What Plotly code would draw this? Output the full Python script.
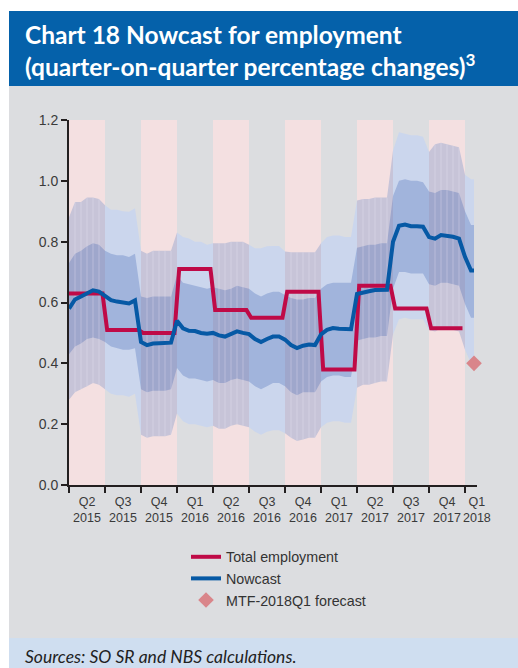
import plotly.graph_objects as go

# ---------------------------------------------------------------- data
quarter_labels = ["Q2<br>2015", "Q3<br>2015", "Q4<br>2015", "Q1<br>2016", "Q2<br>2016",
                  "Q3<br>2016", "Q4<br>2016", "Q1<br>2017", "Q2<br>2017", "Q3<br>2017",
                  "Q4<br>2017", "Q1<br>2018"]
quarter_label_pos = [0.5, 1.5, 2.5, 3.5, 4.5, 5.5, 6.5, 7.5, 8.5, 9.5, 10.5, 11.33]
quarter_bounds = list(range(12))
shaded_quarters = [0, 2, 4, 6, 8, 10]

# quarterly total employment (q-o-q %), Q2 2015 .. Q4 2017
total_employment = [0.63, 0.51, 0.50, 0.71, 0.575, 0.55, 0.635, 0.38, 0.655, 0.58, 0.515]

# nowcast vintages, x in quarters since start of Q2 2015 (six per quarter)
nowcast_x = [k / 6 for k in range(68)] + [11.25]
nowcast = [0.58, 0.61, 0.62, 0.63, 0.64, 0.636, 0.622, 0.608, 0.603, 0.60, 0.597, 0.607,
           0.47, 0.46, 0.465, 0.466, 0.466, 0.468, 0.54, 0.515, 0.507, 0.506, 0.50, 0.497,
           0.50, 0.492, 0.488, 0.498, 0.505, 0.50, 0.496, 0.48, 0.47, 0.48, 0.488, 0.488,
           0.478, 0.46, 0.45, 0.458, 0.462, 0.46, 0.495, 0.51, 0.516, 0.514, 0.512, 0.512,
           0.628, 0.634, 0.637, 0.641, 0.643, 0.642, 0.80, 0.852, 0.856, 0.851, 0.851, 0.849,
           0.815, 0.81, 0.822, 0.82, 0.816, 0.81, 0.75, 0.705, 0.705]
outer_hi = [0.88, 0.93, 0.93, 0.945, 0.945, 0.94, 0.92, 0.905, 0.905, 0.90, 0.898, 0.91,
            0.77, 0.76, 0.77, 0.77, 0.77, 0.77, 0.83, 0.815, 0.81, 0.80, 0.80, 0.79,
            0.795, 0.795, 0.795, 0.80, 0.80, 0.80, 0.79, 0.778, 0.778, 0.785, 0.786, 0.786,
            0.768, 0.765, 0.765, 0.765, 0.765, 0.765, 0.795, 0.815, 0.82, 0.82, 0.815, 0.815,
            0.935, 0.94, 0.94, 0.945, 0.945, 0.945, 1.10, 1.16, 1.155, 1.15, 1.15, 1.145,
            1.095, 1.12, 1.125, 1.12, 1.115, 1.11, 1.02, 1.005, 1.005]
inner_hi = [0.73, 0.76, 0.77, 0.785, 0.795, 0.79, 0.77, 0.76, 0.755, 0.755, 0.75, 0.76,
            0.62, 0.615, 0.62, 0.62, 0.62, 0.62, 0.69, 0.665, 0.66, 0.655, 0.65, 0.645,
            0.65, 0.645, 0.64, 0.645, 0.655, 0.65, 0.645, 0.63, 0.62, 0.63, 0.635, 0.635,
            0.625, 0.615, 0.61, 0.61, 0.615, 0.615, 0.645, 0.66, 0.665, 0.665, 0.665, 0.665,
            0.78, 0.785, 0.79, 0.79, 0.795, 0.795, 0.95, 1.0, 1.005, 1.0, 1.0, 0.995,
            0.965, 0.96, 0.97, 0.97, 0.965, 0.96, 0.90, 0.855, 0.855]
inner_lo = [0.43, 0.455, 0.465, 0.48, 0.485, 0.48, 0.47, 0.455, 0.45, 0.445, 0.445, 0.45,
            0.315, 0.305, 0.31, 0.31, 0.31, 0.315, 0.385, 0.36, 0.35, 0.35, 0.345, 0.34,
            0.345, 0.335, 0.335, 0.345, 0.35, 0.345, 0.34, 0.325, 0.315, 0.325, 0.335, 0.335,
            0.325, 0.305, 0.295, 0.305, 0.305, 0.305, 0.34, 0.355, 0.36, 0.36, 0.355, 0.355,
            0.475, 0.48, 0.485, 0.485, 0.49, 0.49, 0.645, 0.70, 0.70, 0.695, 0.695, 0.695,
            0.66, 0.655, 0.665, 0.665, 0.66, 0.655, 0.595, 0.55, 0.55]
outer_lo = [0.28, 0.305, 0.315, 0.325, 0.335, 0.33, 0.315, 0.30, 0.295, 0.295, 0.29, 0.30,
            0.165, 0.155, 0.16, 0.16, 0.16, 0.165, 0.235, 0.21, 0.20, 0.20, 0.195, 0.19,
            0.195, 0.185, 0.185, 0.195, 0.20, 0.195, 0.19, 0.175, 0.165, 0.175, 0.18, 0.18,
            0.17, 0.155, 0.145, 0.15, 0.155, 0.155, 0.19, 0.205, 0.21, 0.21, 0.205, 0.205,
            0.32, 0.33, 0.33, 0.335, 0.34, 0.34, 0.495, 0.545, 0.55, 0.545, 0.545, 0.545,
            0.51, 0.505, 0.515, 0.515, 0.51, 0.505, 0.445, 0.40, 0.40]

mtf_x = [11.25]
mtf_forecast = [0.40]

# ---------------------------------------------------------------- style
W, H = 518, 668
L, R, T, B = 69, 41, 120, 183
FONT = "Liberation Sans, Arial, sans-serif"
TITLE_FONT = "Lato, Open Sans, sans-serif"
RED = "#bf0a47"
BLUE = "#0659a5"
PINK = "#f4e0e1"
GREY_BG = "#dcdde0"
OUTER_BLUE, INNER_BLUE = "#cbd6ed", "#a1b4dc"
OUTER_MIX, INNER_MIX = "#c7c4d8", "#9fa7cc"


def px_x(p):
    return (p - L) / (W - L - R)


def px_y(p):
    return (H - B - p) / (H - T - B)


fig = go.Figure()

# fan chart, drawn quarter by quarter so shaded quarters get their own tint
n = len(nowcast_x)
for j in quarter_bounds:
    i0 = 6 * j
    i1 = min(6 * j + 6, n - 1)
    xs = nowcast_x[i0:i1 + 1]
    shaded = j in shaded_quarters
    for hi, lo, col in ((outer_hi, outer_lo, OUTER_MIX if shaded else OUTER_BLUE),
                        (inner_hi, inner_lo, INNER_MIX if shaded else INNER_BLUE)):
        fig.add_trace(go.Scatter(
            x=xs + xs[::-1], y=hi[i0:i1 + 1] + lo[i0:i1 + 1][::-1],
            fill="toself", fillcolor=col, mode="lines", line=dict(width=0),
            showlegend=False, hoverinfo="skip"))

# faint seams between vintages inside shaded quarters
sx, sy = [], []
for j in shaded_quarters:
    for k in range(6 * j + 1, 6 * j + 6):
        sx += [nowcast_x[k], nowcast_x[k], None]
        sy += [outer_lo[k], outer_hi[k], None]
fig.add_trace(go.Scatter(x=sx, y=sy, mode="lines",
                         line=dict(color="rgba(240,236,245,0.4)", width=0.8),
                         showlegend=False, hoverinfo="skip"))

# total employment as a quarterly step line
ex, ey = [], []
for j, v in enumerate(total_employment):
    ex += [j + (0.06 if j else 0.0), j + 0.93]
    ey += [v, v]
fig.add_trace(go.Scatter(x=ex, y=ey, mode="lines", name="Total employment",
                         line=dict(color=RED, width=4)))

fig.add_trace(go.Scatter(x=nowcast_x, y=nowcast, mode="lines", name="Nowcast",
                         line=dict(color=BLUE, width=4)))

fig.add_trace(go.Scatter(x=mtf_x, y=mtf_forecast, mode="markers", name="MTF-2018Q1 forecast",
                         marker=dict(symbol="diamond", size=12, color="#d9858a"),
                         cliponaxis=False))

# shaded quarters behind everything
shapes = [dict(type="rect", xref="x", yref="y", x0=j, x1=j + 1, y0=0, y1=1.2,
               fillcolor=PINK, line=dict(width=0), layer="below")
          for j in shaded_quarters]

# page furniture: white margins, title bar, sources bar
shapes += [
    dict(type="rect", xref="paper", yref="paper", x0=px_x(0), x1=px_x(W), y0=px_y(11), y1=px_y(0),
         fillcolor="white", line=dict(width=0), layer="below"),
    dict(type="rect", xref="paper", yref="paper", x0=px_x(0), x1=px_x(9), y0=px_y(H), y1=px_y(0),
         fillcolor="white", line=dict(width=0), layer="below"),
    dict(type="rect", xref="paper", yref="paper", x0=px_x(9), x1=px_x(W), y0=px_y(86), y1=px_y(11),
         fillcolor="#0561aa", line=dict(width=0), layer="below"),
    dict(type="rect", xref="paper", yref="paper", x0=px_x(9), x1=px_x(W), y0=px_y(H), y1=px_y(638),
         fillcolor="#cfdef0", line=dict(width=0), layer="below"),
]

annotations = [
    dict(xref="paper", yref="paper", x=px_x(23), y=px_y(35), xanchor="left", yanchor="middle",
         text="<b>Chart 18 Nowcast for employment</b>", showarrow=False,
         font=dict(family=TITLE_FONT, size=24.5, color="white")),
    dict(xref="paper", yref="paper", x=px_x(23), y=px_y(65), xanchor="left", yanchor="middle",
         text="<b>(quarter-on-quarter percentage changes)<sup>3</sup></b>", showarrow=False,
         font=dict(family=TITLE_FONT, size=24.5, color="white")),
    dict(xref="paper", yref="paper", x=px_x(23), y=px_y(656), xanchor="left", yanchor="middle",
         text="<i>Sources: SO SR and NBS calculations.</i>", showarrow=False,
         font=dict(family=TITLE_FONT, size=17.5, color="#222")),
]

fig.update_layout(
    width=W, height=H,
    margin=dict(l=L, r=R, t=T, b=B, pad=0, autoexpand=False),
    paper_bgcolor=GREY_BG, plot_bgcolor="rgba(0,0,0,0)",
    shapes=shapes, annotations=annotations,
    font=dict(family=FONT, size=13, color="#3a3a3a"),
    legend=dict(xref="container", yref="container", x=186 / W, y=1 - 541 / H,
                xanchor="left", yanchor="top", bgcolor="rgba(0,0,0,0)",
                font=dict(family=FONT, size=14.3, color="#333"), itemwidth=30),
    xaxis=dict(range=[0, 11.333], showgrid=False, zeroline=False,
               showline=True, linecolor="#231f20", linewidth=2,
               tickmode="array", tickvals=quarter_label_pos, ticktext=quarter_labels,
               ticks="", tickfont=dict(size=12.5), tickangle=0, ticklabelstandoff=4,
               minor=dict(tickmode="array", tickvals=quarter_bounds, ticks="outside",
                          ticklen=6, tickwidth=2, tickcolor="#231f20", showgrid=False)),
    yaxis=dict(range=[0, 1.2], showgrid=False, zeroline=False,
               showline=True, linecolor="#231f20", linewidth=2,
               tickmode="array", tickvals=[0, 0.2, 0.4, 0.6, 0.8, 1.0, 1.2],
               ticktext=["0.0", "0.2", "0.4", "0.6", "0.8", "1.0", "1.2"],
               ticks="outside", ticklen=6, tickwidth=2, tickcolor="#231f20",
               tickfont=dict(size=14)),
)

fig.write_html("out.html")
